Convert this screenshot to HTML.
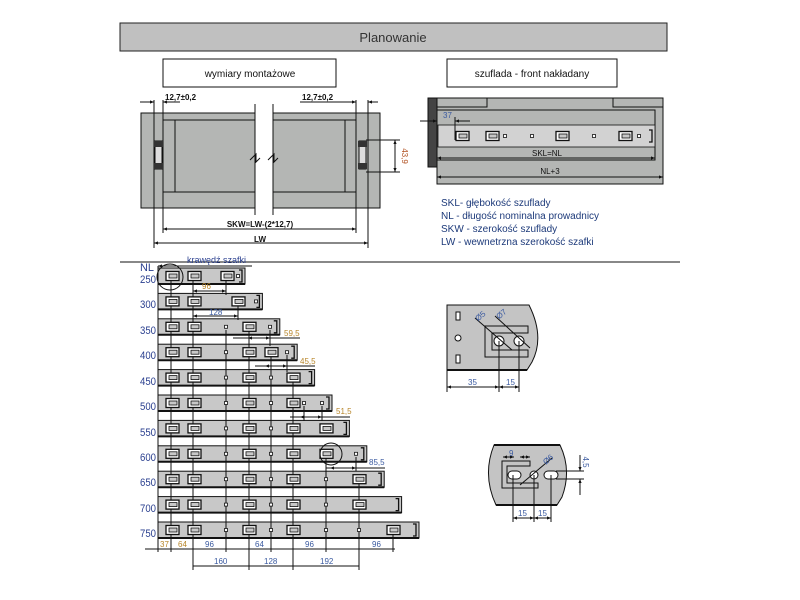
<!DOCTYPE html>
<html><head><meta charset="utf-8"><style>
html,body{margin:0;padding:0;background:#fff}
svg{display:block}
text{font-family:"Liberation Sans",sans-serif}
.n{font-size:11px;fill:#2a3f8f}
.d{font-size:8px;fill:#3a5aa0}
.o{font-size:8px;fill:#b8862a}
.k{font-size:8px;fill:#111}
.l{font-size:10px;fill:#1d3a7a}
</style></head><body>
<svg width="800" height="600" viewBox="0 0 800 600" xmlns="http://www.w3.org/2000/svg">
<defs>
<marker id="a" viewBox="0 0 10 10" refX="10" refY="5" markerWidth="5" markerHeight="4" orient="auto-start-reverse"><path d="M0,1 L10,5 L0,9z" fill="#111"/></marker>
<g id="b"><rect x="-6" y="-4.5" width="13" height="9" fill="#fff" stroke="#111" stroke-width="1.3"/><rect x="-3" y="-2" width="8" height="4" fill="#c8c8c8" stroke="#111" stroke-width="0.8"/></g>
<g id="h"><rect x="-1.5" y="-1.5" width="3" height="3" fill="#fff" stroke="#111" stroke-width="0.8"/></g>
<g id="e"><path d="M-6,-6 H-3 V6 H-6" fill="none" stroke="#111" stroke-width="1.3"/></g>
</defs>
<!-- title -->
<rect x="120" y="23" width="547" height="28" fill="#c0c0c0" stroke="#222" stroke-width="1"/>
<text x="393" y="42" text-anchor="middle" font-size="13" fill="#333">Planowanie</text>
<rect x="163" y="59" width="173" height="28" fill="#fff" stroke="#111"/>
<text x="250" y="77" text-anchor="middle" font-size="10" fill="#111">wymiary montażowe</text>
<rect x="447" y="59" width="170" height="28" fill="#fff" stroke="#111"/>
<text x="532" y="77" text-anchor="middle" font-size="10" fill="#111">szuflada - front nakładany</text>

<!-- left drawing -->
<g stroke="#111" stroke-width="1" fill="#b4b6b4">
<rect x="141" y="113" width="114" height="95"/>
<rect x="273" y="113" width="107" height="95"/>
<path d="M163,120 H255 V192 H163Z M175,120 V192" fill="#b4b6b4"/>
<path d="M273,120 H356 V192 H273Z M345,120 V192" fill="#b4b6b4"/>
</g>
<rect x="255" y="100" width="18" height="120" fill="#fff"/>
<g stroke="#111" stroke-width="1" fill="none">
<line x1="255" y1="104" x2="255" y2="215"/><line x1="273" y1="104" x2="273" y2="215"/>
<path d="M250,160 L256,154 L256,162 L260,158"/><path d="M268,160 L274,154 L274,162 L278,158"/>
<line x1="154" y1="100" x2="154" y2="248"/><line x1="368" y1="100" x2="368" y2="248"/>
<line x1="163" y1="100" x2="163" y2="233"/><line x1="356" y1="100" x2="356" y2="233"/>
<line x1="140" y1="102" x2="154" y2="102" marker-end="url(#a)"/><line x1="180" y1="102" x2="163" y2="102" marker-end="url(#a)"/>
<line x1="300" y1="102" x2="356" y2="102" marker-end="url(#a)"/><line x1="378" y1="102" x2="368" y2="102" marker-end="url(#a)"/>
<line x1="163" y1="229" x2="356" y2="229" marker-start="url(#a)" marker-end="url(#a)"/>
<line x1="154" y1="243" x2="368" y2="243" marker-start="url(#a)" marker-end="url(#a)"/>
<line x1="366" y1="140" x2="400" y2="140"/><line x1="366" y1="172" x2="400" y2="172"/>
<line x1="395" y1="140" x2="395" y2="172" marker-start="url(#a)" marker-end="url(#a)"/>
</g>
<g fill="#ddd" stroke="#111"><rect x="155" y="141" width="7" height="28"/><rect x="359" y="141" width="7" height="28"/></g>
<g fill="#333"><rect x="154" y="141" width="9" height="6"/><rect x="154" y="163" width="9" height="6"/><rect x="358" y="141" width="9" height="6"/><rect x="358" y="163" width="9" height="6"/></g>
<text x="165" y="100" font-size="8" font-weight="bold" fill="#111">12,7±0,2</text>
<text x="302" y="100" font-size="8" font-weight="bold" fill="#111">12,7±0,2</text>
<text x="260" y="227" text-anchor="middle" font-size="8" font-weight="bold" fill="#111">SKW=LW-(2*12,7)</text>
<text x="260" y="242" text-anchor="middle" font-size="8" font-weight="bold" fill="#111">LW</text>
<text x="402" y="156" font-size="8" fill="#b05020" transform="rotate(90 402 156)" text-anchor="middle">43,9</text>

<!-- right drawing -->
<rect x="428" y="98" width="9" height="69" fill="#444" stroke="#111"/>
<rect x="437" y="98" width="226" height="86" fill="#b4b6b4" stroke="#111"/>
<g stroke="#111" fill="none">
<path d="M437,107 H487 V98 M613,98 V107 H663"/>
<rect x="437" y="110" width="218" height="50"/>
</g>
<rect x="438" y="125" width="217" height="22" fill="#d2d2d2" stroke="#111" stroke-width="0.8"/>
<use href="#b" x="462" y="136"/><use href="#b" x="492" y="136"/><use href="#b" x="562" y="136"/><use href="#b" x="625" y="136"/>
<use href="#h" x="532" y="136"/><use href="#h" x="594" y="136"/><use href="#h" x="505" y="136"/><use href="#h" x="639" y="136"/>
<use href="#e" x="655" y="136"/>
<g stroke="#111" fill="none">
<line x1="420" y1="121" x2="437" y2="121" marker-end="url(#a)"/><line x1="470" y1="121" x2="455" y2="121" marker-end="url(#a)"/>
<line x1="455" y1="117" x2="455" y2="140"/>
<line x1="437" y1="158" x2="655" y2="158" marker-start="url(#a)" marker-end="url(#a)"/>
<line x1="437" y1="177" x2="663" y2="177" marker-start="url(#a)" marker-end="url(#a)"/>
</g>
<text x="443" y="118" font-size="8" fill="#3a5aa0">37</text>
<text x="547" y="156" text-anchor="middle" font-size="8" fill="#111">SKL=NL</text>
<text x="550" y="174" text-anchor="middle" font-size="8" fill="#111">NL+3</text>
<text x="441" y="206" class="l">SKL- głębokość szuflady</text>
<text x="441" y="219" class="l">NL - długość nominalna prowadnicy</text>
<text x="441" y="232" class="l">SKW - szerokość szuflady</text>
<text x="441" y="245" class="l">LW - wewnetrzna szerokość szafki</text>

<line x1="120" y1="262" x2="680" y2="262" stroke="#111"/>

<!-- rails -->
<text x="187" y="263" font-size="9" fill="#2a3f8f">krawędź szafki</text>
<line x1="158" y1="266" x2="252" y2="266" stroke="#111" marker-start="url(#a)"/>
<text x="140" y="271" class="n" textLength="14" lengthAdjust="spacingAndGlyphs">NL</text>
<g fill="#c8c8c8" stroke="#111" stroke-width="1">
<rect x="158" y="268" width="87" height="16"/>
<rect x="158" y="293.4" width="104.4" height="16"/>
<rect x="158" y="318.8" width="121.8" height="16"/>
<rect x="158" y="344.2" width="139.2" height="16"/>
<rect x="158" y="369.6" width="156.6" height="16"/>
<rect x="158" y="395" width="174" height="16"/>
<rect x="158" y="420.4" width="191.4" height="16"/>
<rect x="158" y="445.8" width="208.8" height="16"/>
<rect x="158" y="471.2" width="226.2" height="16"/>
<rect x="158" y="496.6" width="243.6" height="16"/>
<rect x="158" y="522" width="261" height="16"/>
</g>
<g>
<use href="#e" x="245" y="276"/><use href="#e" x="262.4" y="301.4"/><use href="#e" x="279.8" y="326.8"/><use href="#e" x="297.2" y="352.2"/><use href="#e" x="314.6" y="377.6"/><use href="#e" x="332" y="403"/><use href="#e" x="349.4" y="428.4"/><use href="#e" x="366.8" y="453.8"/><use href="#e" x="384.2" y="479.2"/><use href="#e" x="401.6" y="504.6"/><use href="#e" x="419" y="530"/>
</g>
<g stroke="#111" stroke-width="2">
<line x1="158" y1="284" x2="245" y2="284"/><line x1="158" y1="309.4" x2="262.4" y2="309.4"/><line x1="158" y1="334.8" x2="279.8" y2="334.8"/><line x1="158" y1="360.2" x2="297.2" y2="360.2"/><line x1="158" y1="385.6" x2="314.6" y2="385.6"/><line x1="158" y1="411" x2="332" y2="411"/><line x1="158" y1="436.4" x2="349.4" y2="436.4"/><line x1="158" y1="461.8" x2="366.8" y2="461.8"/><line x1="158" y1="487.2" x2="384.2" y2="487.2"/><line x1="158" y1="512.6" x2="401.6" y2="512.6"/><line x1="158" y1="538" x2="419" y2="538"/>
</g>
<g class="n">
<text x="140" y="283" textLength="16" lengthAdjust="spacingAndGlyphs">250</text><text x="140" y="308" textLength="16" lengthAdjust="spacingAndGlyphs">300</text><text x="140" y="334" textLength="16" lengthAdjust="spacingAndGlyphs">350</text><text x="140" y="359" textLength="16" lengthAdjust="spacingAndGlyphs">400</text><text x="140" y="385" textLength="16" lengthAdjust="spacingAndGlyphs">450</text><text x="140" y="410" textLength="16" lengthAdjust="spacingAndGlyphs">500</text><text x="140" y="436" textLength="16" lengthAdjust="spacingAndGlyphs">550</text><text x="140" y="461" textLength="16" lengthAdjust="spacingAndGlyphs">600</text><text x="140" y="486" textLength="16" lengthAdjust="spacingAndGlyphs">650</text><text x="140" y="512" textLength="16" lengthAdjust="spacingAndGlyphs">700</text><text x="140" y="537" textLength="16" lengthAdjust="spacingAndGlyphs">750</text>
</g>
<!-- vertical lines -->
<g stroke="#111" stroke-width="1">
<line x1="158" y1="266" x2="158" y2="552"/>
<line x1="171" y1="276" x2="171" y2="552"/>
<line x1="193" y1="276" x2="193" y2="570"/>
<line x1="226" y1="276" x2="226" y2="295"/>
<line x1="238" y1="303" x2="238" y2="320"/>
<line x1="226" y1="330" x2="226" y2="552"/>
<line x1="249" y1="330" x2="249" y2="570"/>
<line x1="271" y1="355" x2="271" y2="552"/>
<line x1="270" y1="330" x2="270" y2="346"/>
<line x1="287" y1="355" x2="287" y2="372"/>
<line x1="293" y1="381" x2="293" y2="570"/>
<line x1="304" y1="406" x2="304" y2="421"/>
<line x1="322" y1="406" x2="322" y2="421"/>
<line x1="326" y1="457" x2="326" y2="552"/>
<line x1="356" y1="457" x2="356" y2="471"/>
<line x1="359" y1="482" x2="359" y2="570"/>
<line x1="393" y1="530" x2="393" y2="552"/>
</g>
<!-- brackets -->
<g>
<use href="#b" x="172" y="276"/><use href="#b" x="194" y="276"/><use href="#b" x="227" y="276"/>
<use href="#b" x="172" y="301.4"/><use href="#b" x="194" y="301.4"/><use href="#b" x="238" y="301.4"/>
<use href="#b" x="172" y="326.8"/><use href="#b" x="194" y="326.8"/><use href="#b" x="249" y="326.8"/>
<use href="#b" x="172" y="352.2"/><use href="#b" x="194" y="352.2"/><use href="#b" x="249" y="352.2"/><use href="#b" x="271" y="352.2"/>
<use href="#b" x="172" y="377.6"/><use href="#b" x="194" y="377.6"/><use href="#b" x="249" y="377.6"/><use href="#b" x="293" y="377.6"/>
<use href="#b" x="172" y="403"/><use href="#b" x="194" y="403"/><use href="#b" x="249" y="403"/><use href="#b" x="293" y="403"/>
<use href="#b" x="172" y="428.4"/><use href="#b" x="194" y="428.4"/><use href="#b" x="249" y="428.4"/><use href="#b" x="293" y="428.4"/><use href="#b" x="326" y="428.4"/>
<use href="#b" x="172" y="453.8"/><use href="#b" x="194" y="453.8"/><use href="#b" x="249" y="453.8"/><use href="#b" x="293" y="453.8"/><use href="#b" x="326" y="453.8"/>
<use href="#b" x="172" y="479.2"/><use href="#b" x="194" y="479.2"/><use href="#b" x="249" y="479.2"/><use href="#b" x="293" y="479.2"/><use href="#b" x="359" y="479.2"/>
<use href="#b" x="172" y="504.6"/><use href="#b" x="194" y="504.6"/><use href="#b" x="249" y="504.6"/><use href="#b" x="293" y="504.6"/><use href="#b" x="359" y="504.6"/>
<use href="#b" x="172" y="530"/><use href="#b" x="194" y="530"/><use href="#b" x="249" y="530"/><use href="#b" x="293" y="530"/><use href="#b" x="393" y="530"/>
</g>
<g>
<use href="#h" x="238" y="276"/><use href="#h" x="256" y="301.4"/><use href="#h" x="226" y="326.8"/><use href="#h" x="270" y="326.8"/>
<use href="#h" x="226" y="352.2"/><use href="#h" x="287" y="352.2"/><use href="#h" x="226" y="377.6"/><use href="#h" x="271" y="377.6"/>
<use href="#h" x="226" y="403"/><use href="#h" x="271" y="403"/><use href="#h" x="304" y="403"/><use href="#h" x="322" y="403"/>
<use href="#h" x="226" y="428.4"/><use href="#h" x="271" y="428.4"/><use href="#h" x="226" y="453.8"/><use href="#h" x="271" y="453.8"/><use href="#h" x="356" y="453.8"/>
<use href="#h" x="226" y="479.2"/><use href="#h" x="271" y="479.2"/><use href="#h" x="326" y="479.2"/>
<use href="#h" x="226" y="504.6"/><use href="#h" x="271" y="504.6"/><use href="#h" x="326" y="504.6"/>
<use href="#h" x="226" y="530"/><use href="#h" x="271" y="530"/><use href="#h" x="326" y="530"/><use href="#h" x="359" y="530"/>
</g>
<circle cx="170" cy="277" r="13" fill="none" stroke="#111"/>
<circle cx="331" cy="454" r="11" fill="none" stroke="#111"/>
<!-- dims on rails -->
<g stroke="#111" fill="none">
<line x1="193" y1="291" x2="226" y2="291" marker-start="url(#a)" marker-end="url(#a)"/>
<line x1="193" y1="316" x2="238" y2="316" marker-start="url(#a)" marker-end="url(#a)"/>
<line x1="233" y1="338" x2="300" y2="338"/><line x1="248" y1="338" x2="270" y2="338" marker-start="url(#a)" marker-end="url(#a)"/>
<line x1="255" y1="366" x2="315" y2="366"/><line x1="265" y1="366" x2="287" y2="366" marker-start="url(#a)" marker-end="url(#a)"/>
<line x1="290" y1="417" x2="350" y2="417"/><line x1="300" y1="417" x2="322" y2="417" marker-start="url(#a)" marker-end="url(#a)"/>
<line x1="326" y1="468" x2="385" y2="468"/><line x1="330" y1="468" x2="356" y2="468" marker-start="url(#a)" marker-end="url(#a)"/>
<line x1="145" y1="549" x2="395" y2="549"/>
<line x1="193" y1="566" x2="359" y2="566"/>
</g>
<text x="202" y="289" class="o">96</text>
<text x="209" y="315" class="d">128</text>
<text x="284" y="336" class="o">59,5</text>
<text x="300" y="364" class="o">45,5</text>
<text x="336" y="414" class="o">51,5</text>
<text x="369" y="465" class="d">85,5</text>
<text x="160" y="547" class="o">37</text><text x="178" y="547" class="o">64</text><text x="205" y="547" class="d">96</text>
<text x="255" y="547" class="d">64</text><text x="305" y="547" class="d">96</text><text x="372" y="547" class="d">96</text>
<text x="214" y="564" class="d">160</text><text x="264" y="564" class="d">128</text><text x="320" y="564" class="d">192</text>

<!-- detail 1 -->
<path d="M447,305 H529 Q545,337 532,362 L527,370 H447Z" fill="#c4c4c4" stroke="#111"/>
<line x1="447" y1="370" x2="527" y2="370" stroke="#111" stroke-width="2"/>
<g fill="#fff" stroke="#111">
<rect x="456" y="312" width="4" height="8"/><rect x="456" y="355" width="4" height="8"/><circle cx="458" cy="338" r="3"/>
<path d="M485,326 H528 V333 H492 V350 H528 V357 H485Z" fill="#c4c4c4"/>
<circle cx="499" cy="341" r="5"/><circle cx="519" cy="341" r="5"/>
<line x1="475" y1="318" x2="512" y2="350"/><line x1="495" y1="316" x2="530" y2="348"/>
<line x1="447" y1="370" x2="447" y2="392"/><line x1="499" y1="341" x2="499" y2="392"/><line x1="519" y1="341" x2="519" y2="392"/>
<line x1="447" y1="387" x2="499" y2="387" marker-start="url(#a)" marker-end="url(#a)"/>
<line x1="499" y1="387" x2="519" y2="387" marker-start="url(#a)" marker-end="url(#a)"/>
</g>
<text x="476" y="320" class="d" transform="rotate(-40 479 318)">Ø5</text>
<text x="497" y="318" class="d" transform="rotate(-40 500 316)">Ø7</text>
<text x="468" y="385" class="d">35</text><text x="506" y="385" class="d">15</text>

<!-- detail 2 -->
<path d="M494,445 H560 Q572,470 562,497 L557,505 H496 Q482,475 494,445Z" fill="#c4c4c4" stroke="#111"/>
<line x1="494" y1="445" x2="560" y2="445" stroke="#111" stroke-width="2"/>
<line x1="496" y1="505" x2="557" y2="505" stroke="#111" stroke-width="2"/>
<g stroke="#111" fill="#fff">
<path d="M502,461 H530 V466 H507 V483 H538 V488 H502Z" fill="#c4c4c4"/>
<rect x="508" y="471" width="13" height="8" rx="4"/>
<circle cx="534" cy="475" r="4"/>
<rect x="544" y="471" width="14" height="8" rx="4"/>
<line x1="520" y1="485" x2="552" y2="458"/>
<line x1="513" y1="475" x2="513" y2="522"/><line x1="534" y1="475" x2="534" y2="522"/><line x1="551" y1="475" x2="551" y2="522"/>
<line x1="513" y1="518" x2="534" y2="518" marker-start="url(#a)" marker-end="url(#a)"/>
<line x1="534" y1="518" x2="551" y2="518" marker-start="url(#a)" marker-end="url(#a)"/>
<line x1="503" y1="457" x2="514" y2="457" marker-start="url(#a)" marker-end="url(#a)"/>
<line x1="520" y1="457" x2="530" y2="457" marker-start="url(#a)" marker-end="url(#a)"/>
<line x1="556" y1="471" x2="584" y2="471"/><line x1="556" y1="479" x2="584" y2="479"/>
<line x1="580" y1="455" x2="580" y2="471" marker-end="url(#a)"/><line x1="580" y1="495" x2="580" y2="479" marker-end="url(#a)"/>
</g>
<text x="509" y="456" class="d">9</text>
<text x="544" y="464" class="d" transform="rotate(-40 546 462)">Ø6</text>
<text x="583" y="462" class="d" transform="rotate(90 583 462)" text-anchor="middle">4,5</text>
<text x="518" y="516" class="d">15</text><text x="538" y="516" class="d">15</text>
</svg>
</body></html>
